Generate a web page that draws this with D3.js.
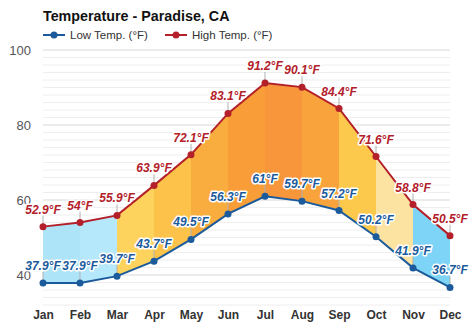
<!DOCTYPE html>
<html><head><meta charset="utf-8">
<script src="https://cdn.jsdelivr.net/npm/d3@7"></script>
<style>
html,body{margin:0;padding:0;background:#fff;}
svg text{font-family:Arial,"Liberation Sans",sans-serif;}
</style></head><body>
<svg id="c" width="474" height="331"></svg>
<script>
const months = ["Jan","Feb","Mar","Apr","May","Jun","Jul","Aug","Sep","Oct","Nov","Dec"];
const lowTemps = [37.9,37.9,39.7,43.7,49.5,56.3,61,59.7,57.2,50.2,41.9,36.7];
const highTemps = [52.9,54,55.9,63.9,72.1,83.1,91.2,90.1,84.4,71.6,58.8,50.5];
const yTicks = [40,60,80,100];
const bandColors = ["#aee4f8","#b6e8fb","#fdd35e","#fcc24a","#f9ad3e","#f89d37","#f7963a","#f9a33c","#fcc94c","#fde3a2","#7dd4f7"];

const svg = d3.select("#c");
const x = d3.scalePoint().domain(months).range([43,450]).padding(0);
const y = d3.scaleLinear().domain([32,100]).range([305,50]);

// gridlines
const grid = svg.append("g");
d3.range(32,101,2).forEach(v=>{
  grid.append("line").attr("x1",x("Jan")).attr("x2",x("Dec"))
    .attr("y1",y(v)).attr("y2",y(v))
    .attr("stroke", v%20===0 ? "#d8d8d8" : "#eeeeee").attr("stroke-width",1);
});

// y axis labels
const yAxis = d3.axisLeft(y).tickValues(yTicks).tickSize(0).tickPadding(0);
const ya = svg.append("g").attr("transform","translate(31,0)").call(yAxis);
ya.select(".domain").remove();
ya.selectAll("text").attr("fill","#555").style("font-size","13px").style("font-family","Arial, 'Liberation Sans', sans-serif");

// x axis labels
const xAxis = d3.axisBottom(x).tickSize(0).tickPadding(0);
const xa = svg.append("g").attr("transform","translate(0,310)").call(xAxis);
xa.select(".domain").remove();
xa.selectAll("text").attr("fill","#333").style("font-size","12px").style("font-weight","bold").style("font-family","Arial, 'Liberation Sans', sans-serif");

// bands
const data = months.map((m,i)=>({m,lo:lowTemps[i],hi:highTemps[i]}));
const area = d3.area().x(d=>x(d.m)).y0(d=>y(d.lo)).y1(d=>y(d.hi));
for(let i=0;i<data.length-1;i++){
  svg.append("path").attr("d",area([data[i],data[i+1]])).attr("fill",bandColors[i]);
}

// ticks lines for labels
data.forEach(d=>{
  svg.append("line").attr("x1",x(d.m)).attr("x2",x(d.m))
    .attr("y1",y(d.hi)).attr("y2",y(d.hi)-11).attr("stroke","#b0b0b0").attr("stroke-width",1);
  svg.append("line").attr("x1",x(d.m)).attr("x2",x(d.m))
    .attr("y1",y(d.lo)).attr("y2",y(d.lo)-11).attr("stroke","#b0b0b0").attr("stroke-width",1);
});

const lowColor = "#1b5b9c", highColor = "#b3202a";
const line = d3.line().x(d=>x(d.m));
svg.append("path").attr("d",line.y(d=>y(d.hi))(data)).attr("fill","none").attr("stroke",highColor).attr("stroke-width",2);
svg.append("path").attr("d",line.y(d=>y(d.lo))(data)).attr("fill","none").attr("stroke",lowColor).attr("stroke-width",2);
svg.selectAll(".hd").data(data).join("circle").attr("cx",d=>x(d.m)).attr("cy",d=>y(d.hi)).attr("r",3.5).attr("fill",highColor);
svg.selectAll(".ld").data(data).join("circle").attr("cx",d=>x(d.m)).attr("cy",d=>y(d.lo)).attr("r",3.5).attr("fill",lowColor);

// value labels
function lab(val, yy, xx, col){
  svg.append("text").attr("x",xx).attr("y",yy).attr("text-anchor","middle")
    .attr("fill",col).attr("stroke","#fff").attr("stroke-width",3).attr("stroke-linejoin","round")
    .attr("paint-order","stroke")
    .style("font-size","12px").style("font-weight","bold").style("font-style","italic")
    .text(val+"°F");
}
data.forEach(d=>{
  lab(d.hi, y(d.hi)-13, x(d.m), highColor);
  lab(d.lo, y(d.lo)-13, x(d.m), lowColor);
});

// title
svg.append("text").attr("x",43).attr("y",21).attr("fill","#111")
  .style("font-size","14.3px").style("font-weight","bold").text("Temperature - Paradise, CA");

// legend
const leg = [{t:"Low Temp. (°F)",c:lowColor,x:43},{t:"High Temp. (°F)",c:highColor,x:165}];
leg.forEach(l=>{
  svg.append("line").attr("x1",l.x).attr("x2",l.x+22).attr("y1",35).attr("y2",35).attr("stroke",l.c).attr("stroke-width",2);
  svg.append("circle").attr("cx",l.x+11).attr("cy",35).attr("r",3.5).attr("fill",l.c);
  svg.append("text").attr("x",l.x+27).attr("y",39).attr("fill","#333").style("font-size","11.5px").text(l.t);
});
</script></body></html>
